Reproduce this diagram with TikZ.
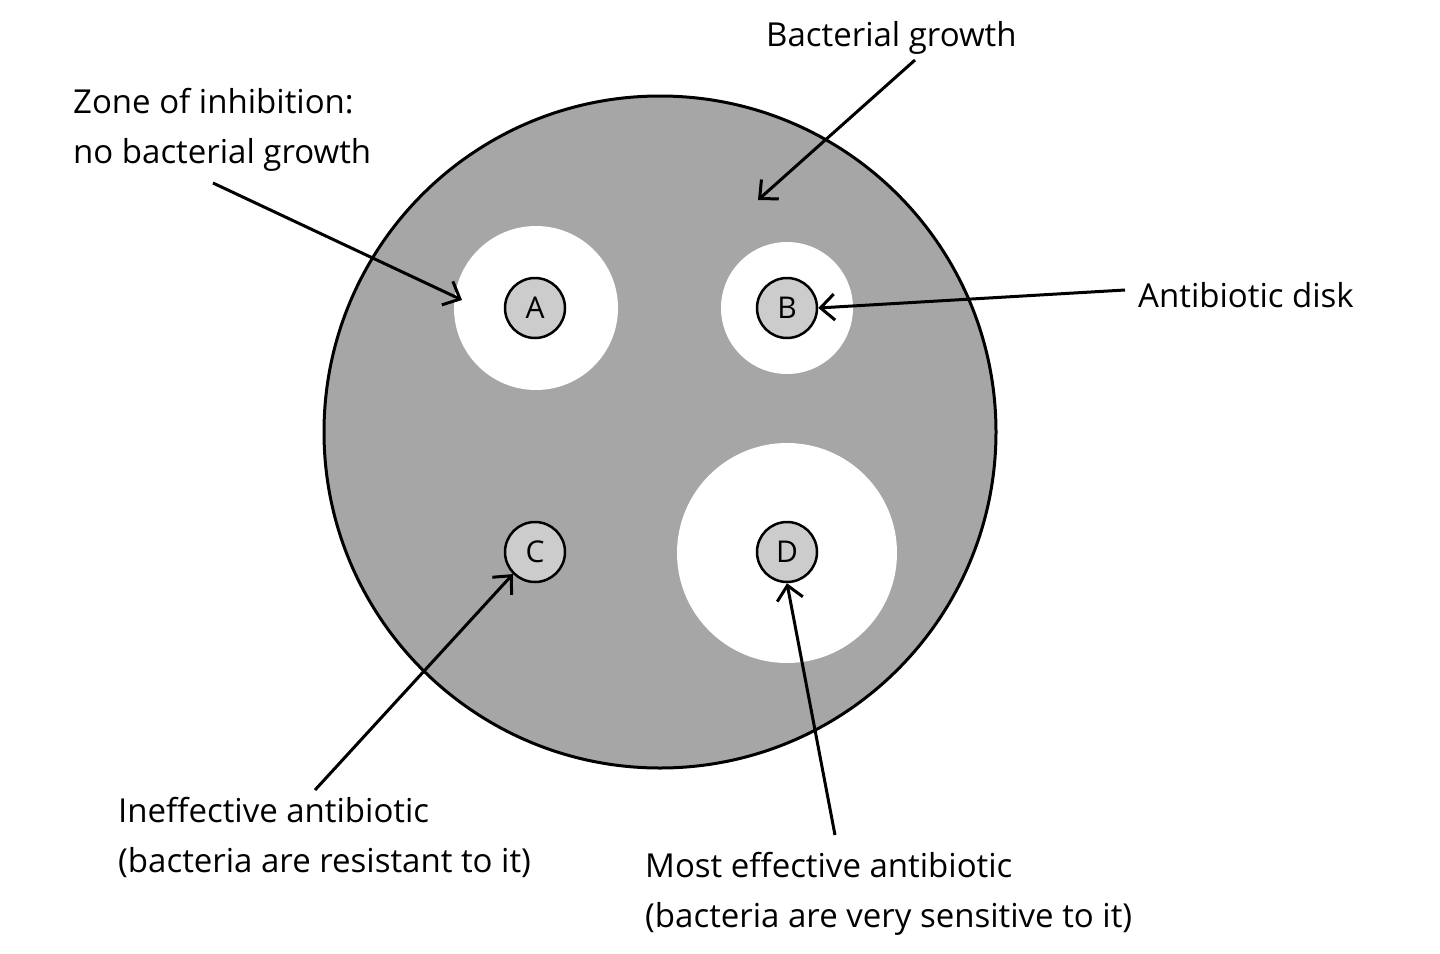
\documentclass[tikz,border=0pt]{standalone}
\usepackage{fontspec}
\setmainfont{Open Sans}
\usetikzlibrary{arrows.meta}
\begin{document}
\begin{tikzpicture}[x=1pt,y=-1pt,
  disk/.style={circle,draw=black,line width=2.5pt,fill=diskgray,minimum size=60pt,inner sep=0pt,font=\fontsize{30}{30}\selectfont},
  lbl/.style={anchor=west,align=left,font=\fontsize{33}{50}\selectfont,inner sep=0pt},
  arr/.style={line width=3pt,-{Straight Barb[length=14pt,width=26pt,line width=3pt]}}]
\definecolor{plategray}{HTML}{A6A6A6}
\definecolor{diskgray}{HTML}{CCCCCC}
\useasboundingbox (0,0) rectangle (1440,953);
\fill[white] (0,0) rectangle (1440,953);
\draw[fill=plategray,line width=3pt] (660,432) circle[radius=336];
\fill[white] (536,308) circle[radius=82];
\fill[white] (787,308) circle[radius=66];
\fill[white] (787,553) circle[radius=110];
\node[disk] (A) at (535,308) {A};
\node[disk] (B) at (787,308) {B};
\node[disk] (C) at (535,552) {C};
\node[disk] (D) at (787,552) {D};
\coordinate (g) at (758,200);
\coordinate (z) at (462,300);
\node[lbl] (tg) at (766,38) {Bacterial growth};
\node[lbl] (tz) at (73,130) {Zone of inhibition:\\no bacterial growth};
\node[lbl] (tb) at (1138,295) {Antibiotic disk};
\node[lbl] (tc) at (118,837) {Ineffective antibiotic\\(bacteria are resistant to it)};
\node[lbl] (td) at (645,894) {Most effective antibiotic\\(bacteria are very sensitive to it)};
\draw[arr] (915,60) -- (g);
\draw[arr] (213,183) -- (z);
\draw[arr] (1125,290) -- (B.east);
\draw[arr] (315,790) -- (C.south west);
\draw[arr] (835,835) -- (D.south);
\end{tikzpicture}
\end{document}
